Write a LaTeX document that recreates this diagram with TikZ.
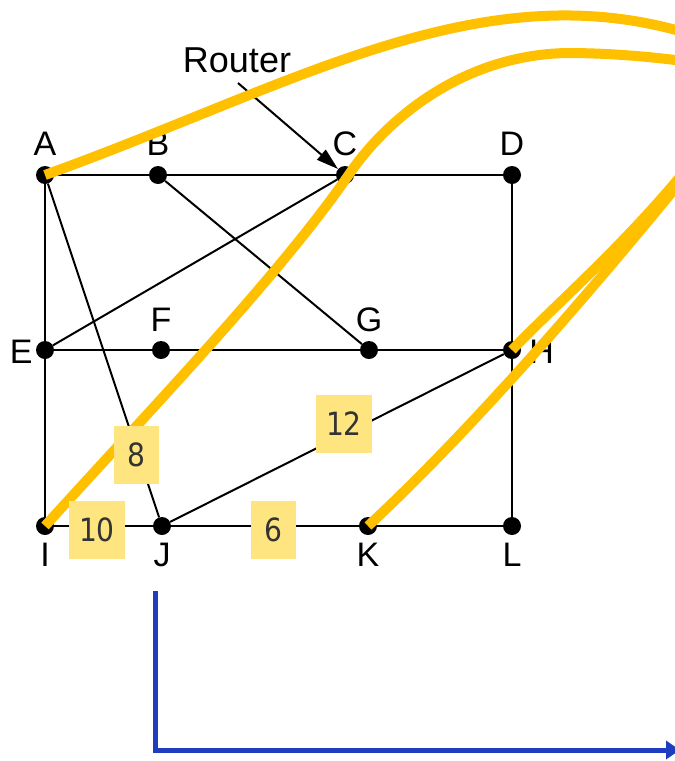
\documentclass[tikz,border=0pt]{standalone}
\usepackage{fontspec}
\setmainfont{Liberation Sans}
\newfontfamily\wtfont[FakeStretch=0.88]{DejaVu Sans}
\usetikzlibrary{arrows.meta}
\definecolor{pathgold}{RGB}{255,192,0}
\definecolor{wtfill}{RGB}{255,229,128}
\definecolor{wttext}{RGB}{51,51,51}
\definecolor{flowblue}{RGB}{31,61,191}
\tikzset{
  rt/.style={circle, fill=black, inner sep=0pt, minimum size=18pt},
  lbl/.style={font=\fontsize{34}{40}\selectfont, inner sep=0pt},
  lblup/.style={lbl, yshift=10pt},
  lbldn/.style={lbl, yshift=-8pt},
  rlbl/.style={font=\fontsize{36}{42}\selectfont, inner sep=0pt},
  wire/.style={line width=2pt, black},
  ptr/.style={-{Triangle[length=22pt, width=13pt]}, line width=2pt, black},
  route/.style={line width=10pt, pathgold},
  wt/.style={rectangle, fill=wtfill, text=wttext, font=\wtfont\fontsize{32}{38}\selectfont,
    minimum width=45pt, minimum height=58pt, inner xsep=10pt},
  flow/.style={-{Triangle[length=14pt, width=18pt]}, line width=5pt, flowblue}
}

\begin{document}
\begin{tikzpicture}[x=1pt, y=1pt]
  \useasboundingbox (0,0) rectangle (675,-761);
  % routers
  \node[rt, label={[lblup]above:A}] (A) at (45,-175) {};
  \node[rt, label={[lblup]above:B}] (B) at (158,-175) {};
  \node[rt, label={[lblup]above:C}] (C) at (345,-175) {};
  \node[rt, label={[lblup]above:D}] (D) at (512,-175) {};
  \node[rt, label={[lbl, xshift=-3pt, yshift=-2pt]left:E}] (E) at (45,-350) {};
  \node[rt, label={[lbl, yshift=9pt]above:F}] (F) at (161,-350) {};
  \node[rt, label={[lbl, yshift=9pt]above:G}] (G) at (369,-350) {};
  \node[rt, label={[lbl, xshift=8pt, yshift=-2pt]right:H}] (H) at (512,-350) {};
  \node[rt, label={[lbldn]below:I}] (I) at (45,-526) {};
  \node[rt, label={[lbldn]below:J}] (J) at (162,-526) {};
  \node[rt, label={[lbldn]below:K}] (K) at (368,-526) {};
  \node[rt, label={[lbldn]below:L}] (L) at (512,-526) {};
  % links
  \draw[wire] (A) -- (B) -- (C) -- (D);
  \draw[wire] (E) -- (F) -- (G) -- (H);
  \draw[wire] (I) -- (J) -- (K) -- (L);
  \draw[wire] (A) -- (E) -- (I);
  \draw[wire] (D) -- (H) -- (L);
  \draw[wire] (A) -- (J);
  \draw[wire] (B) -- (G);
  \draw[wire] (C) -- (E);
  \draw[wire] (J) -- (H);
  % callout
  \node[rlbl] (rtr) at (237,-60) {Router};
  \coordinate (rtail) at (238,-83);
  \draw[ptr] (rtail) -- (C);
  % paths
  \begin{scope}
    \clip (0,0) rectangle (675,-761);
    \draw[route] (A.center) .. controls (295,-85) and (480,30) .. (690,-34);
    \draw[route] (I.center) .. controls (150,-410) and (280,-275) .. (350,-173)
      .. controls (385,-122) and (460,-55) .. (567,-53)
      .. controls (610,-53) and (655,-57) .. (690,-62);
    \draw[route] (H.center) .. controls (560,-300) and (620,-250) .. (690,-165);
    \draw[route] (K.center) .. controls (450,-450) and (560,-330) .. (690,-170);
    \coordinate (ftop) at (155,-591);
    \coordinate (fend) at (680,-750);
    \draw[flow] (ftop) |- (fend);
  \end{scope}
  % weights
  \node[wt] (w8) at (136,-455) {8};
  \node[wt] (w12) at (344,-424) {12};
  \node[wt] (w10) at (97,-530) {10};
  \node[wt] (w6) at (273,-530) {6};
\end{tikzpicture}
\end{document}
